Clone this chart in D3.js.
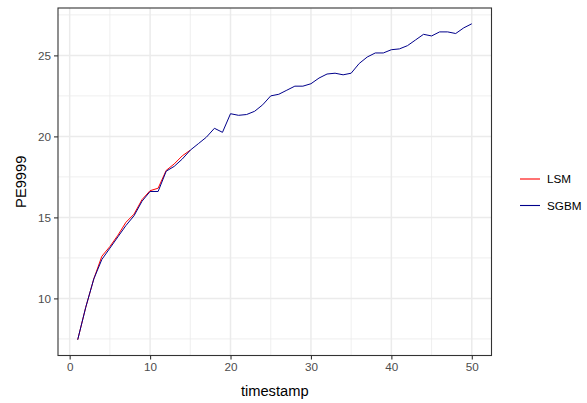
<!DOCTYPE html>
<html>
<head>
<meta charset="utf-8">
<script src="https://cdn.jsdelivr.net/npm/d3@7"></script>
<style>
  body { margin: 0; background: #fff; }
  svg { font-family: "Liberation Sans", Arial, sans-serif; }
</style>
</head>
<body>
<div id="chart"></div>
<script>
// values
const timestamps = d3.range(1, 51);
const sgbm = [
  7.45, 9.45, 11.2, 12.4, 13.1, 13.8, 14.5, 15.1, 16.0, 16.6,
  16.6, 17.85, 18.15, 18.6, 19.15, 19.55, 19.95, 20.5, 20.25, 21.4,
  21.3, 21.35, 21.55, 21.95, 22.5, 22.6, 22.85, 23.1, 23.1, 23.25,
  23.6, 23.85, 23.9, 23.8, 23.9, 24.5, 24.9, 25.15, 25.15, 25.35,
  25.4, 25.6, 25.95, 26.3, 26.2, 26.45, 26.45, 26.35, 26.7, 26.95
];
// LSM only shows apart from SGBM over the first timestamps
const lsm = [
  7.45, 9.45, 11.2, 12.6, 13.2, 13.9, 14.7, 15.2, 16.1, 16.65,
  16.8, 17.9, 18.3, 18.8, 19.15
];
const xTicks = [0, 10, 20, 30, 40, 50];
const yTicks = [10, 15, 20, 25];
const xMinor = [5, 15, 25, 35, 45];
const yMinor = [7.5, 12.5, 17.5, 22.5, 27.5];

const series = [
  { name: 'LSM', values: lsm, color: '#ff0000' },
  { name: 'SGBM', values: sgbm, color: '#00008b' }
];

const W = 587, H = 403;
const panel = { left: 58, right: 491.5, top: 8, bottom: 355.5 };

const svg = d3.select('#chart').append('svg')
  .attr('width', W).attr('height', H);

// ggplot-style 5% expansion
const xExt = d3.extent(timestamps);
const xPad = (xExt[1] - xExt[0]) * 0.05;
const x = d3.scaleLinear()
  .domain([xExt[0] - xPad, xExt[1] + xPad])
  .range([panel.left, panel.right]);

const allY = sgbm.concat(lsm);
const yExt = d3.extent(allY);
const yPad = (yExt[1] - yExt[0]) * 0.05;
const y = d3.scaleLinear()
  .domain([yExt[0] - yPad, yExt[1] + yPad])
  .range([panel.bottom, panel.top]);

const grid = svg.append('g');
grid.selectAll('.xminor').data(xMinor).join('line')
  .attr('x1', d => x(d)).attr('x2', d => x(d))
  .attr('y1', panel.top).attr('y2', panel.bottom)
  .attr('stroke', '#ebebeb').attr('stroke-width', 0.8);
grid.selectAll('.yminor').data(yMinor.filter(v => y(v) > panel.top)).join('line')
  .attr('y1', d => y(d)).attr('y2', d => y(d))
  .attr('x1', panel.left).attr('x2', panel.right)
  .attr('stroke', '#ebebeb').attr('stroke-width', 0.8);
grid.selectAll('.xmajor').data(xTicks).join('line')
  .attr('x1', d => x(d)).attr('x2', d => x(d))
  .attr('y1', panel.top).attr('y2', panel.bottom)
  .attr('stroke', '#ebebeb').attr('stroke-width', 1.5);
grid.selectAll('.ymajor').data(yTicks).join('line')
  .attr('y1', d => y(d)).attr('y2', d => y(d))
  .attr('x1', panel.left).attr('x2', panel.right)
  .attr('stroke', '#ebebeb').attr('stroke-width', 1.5);

const line = d3.line()
  .x((d, i) => x(timestamps[i]))
  .y(d => y(d));

svg.append('g').selectAll('path').data(series).join('path')
  .attr('fill', 'none')
  .attr('stroke', d => d.color)
  .attr('stroke-width', 1)
  .attr('d', d => line(d.values));

// panel border
svg.append('rect')
  .attr('x', panel.left).attr('y', panel.top)
  .attr('width', panel.right - panel.left)
  .attr('height', panel.bottom - panel.top)
  .attr('fill', 'none').attr('stroke', '#333333').attr('stroke-width', 1.1);

// axes
const xAxis = svg.append('g')
  .attr('transform', `translate(0,${panel.bottom})`)
  .call(d3.axisBottom(x).tickValues(xTicks).tickSize(4).tickPadding(3));
const yAxis = svg.append('g')
  .attr('transform', `translate(${panel.left},0)`)
  .call(d3.axisLeft(y).tickValues(yTicks).tickSize(4).tickPadding(3));

[xAxis, yAxis].forEach(a => {
  a.select('.domain').remove();
  a.selectAll('.tick line').attr('stroke', '#333333').attr('stroke-width', 1.1);
  a.selectAll('.tick text').attr('fill', '#4d4d4d')
    .style('font-size', '11.7px')
    .style('font-family', '"Liberation Sans", Arial, sans-serif');
});

// axis titles
svg.append('text')
  .attr('x', (panel.left + panel.right) / 2).attr('y', 396)
  .attr('text-anchor', 'middle')
  .style('font-size', '14.7px').attr('fill', '#000')
  .text('timestamp');
svg.append('text')
  .attr('transform', `translate(26,${(panel.top + panel.bottom) / 2}) rotate(-90)`)
  .attr('text-anchor', 'middle')
  .style('font-size', '14.7px').attr('fill', '#000')
  .text('PE9999');

// legend
const legend = svg.append('g').attr('transform', 'translate(520,179)');
const item = legend.selectAll('g').data(series).join('g')
  .attr('transform', (d, i) => `translate(0,${i * 26.5})`);
item.append('line')
  .attr('x1', 0).attr('x2', 20).attr('y1', 0).attr('y2', 0)
  .attr('stroke', d => d.color).attr('stroke-width', 1.1);
item.append('text')
  .attr('x', 27).attr('y', 4.2)
  .style('font-size', '11.7px').attr('fill', '#000')
  .text(d => d.name);
</script>
</body>
</html>
